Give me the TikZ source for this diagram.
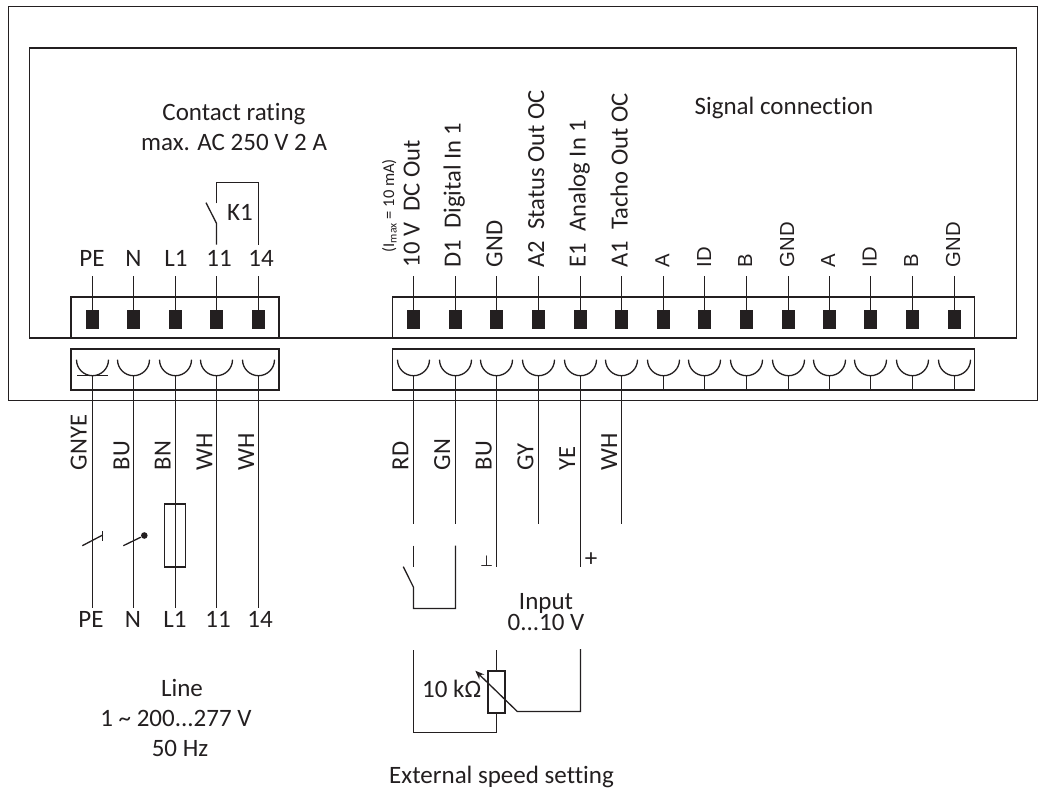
\documentclass[tikz,border=0pt]{standalone}
\usepackage{fontspec}
\usetikzlibrary{arrows.meta}
\setmainfont[Ligatures=NoCommon]{Carlito}
\setsansfont{Liberation Sans}
\newfontfamily\perpfont{DejaVu Sans}
\definecolor{ink}{HTML}{231F20}
\tikzset{
  txt/.style={font=\fontsize{25}{30}\selectfont, inner sep=0pt, align=center},
  vert/.style={txt, font=\fontsize{24.6}{30}\selectfont, rotate=90, anchor=base west},
  vertsans/.style={vert, font=\fontsize{20.3}{24}\selectfont\sffamily},
  terminal/.style={shape=rectangle, fill=ink, inner sep=0pt, minimum width=12.7pt, minimum height=18.4pt},
  strip/.style={shape=rectangle, draw, inner sep=0pt, minimum height=41pt},
}
\newcommand{\cupat}[1]{\draw ([shift={(-16,16)}]#1) arc[start angle=180, end angle=360, radius=16];}
\begin{document}
\begin{tikzpicture}[x=1pt, y=1pt, line width=1.3pt, color=ink]
      \useasboundingbox (0,0) rectangle (1043,-792);
      \coordinate (wiretop) at (0,-276);
      \coordinate (stripend) at (0,-390.5);
      \coordinate (lineend) at (0,-608);
      \coordinate (cutend) at (0,-524);
      \coordinate (longend) at (0,-566.5);

      % housing
      \node[shape=rectangle, draw, inner sep=0pt, minimum width=1029pt, minimum height=394pt] (outer) at (523,-203.5) {};
      \node[shape=rectangle, draw, inner sep=0pt, minimum width=987pt, minimum height=290pt] (inner) at (523,-193) {};

      % strips
      \node[strip, minimum width=208pt] (linetop) at (175,-317.5) {};
      \node[strip, minimum width=208pt] (linelow) at (175,-369.5) {};
      \node[strip, minimum width=582pt] (sigtop) at (683.5,-317.5) {};
      \node[strip, minimum width=582pt] (siglow) at (683.5,-369.5) {};

      % line terminals
      \node[terminal] (tpe) at (92.5,-319.5) {};
      \node[terminal] (tn) at (133.5,-319.5) {};
      \node[terminal] (tl) at (175.5,-319.5) {};
      \node[terminal] (tk) at (216.5,-319.5) {};
      \node[terminal] (tf) at (258.5,-319.5) {};
      \draw (tpe |- wiretop) -- (tpe);
      \draw (tn |- wiretop) -- (tn);
      \draw (tl |- wiretop) -- (tl);
      \draw (tk |- wiretop) -- (tk);
      \draw (tf |- wiretop) -- (tf);
      \node[txt] (lpe) at (92,-258) {PE};
      \node[txt] (ln) at (133.5,-258) {N};
      \node[txt] (ll) at (176,-258) {L1};
      \node[txt] (lk) at (219,-258) {11};
      \node[txt] (lf) at (261,-258) {14};

      % signal terminals
      \node[terminal] (tdc) at (413.5,-319.5) {};
      \node[terminal] (tdig) at (455.5,-319.5) {};
      \node[terminal] (tgnda) at (496.5,-319.5) {};
      \node[terminal] (tstat) at (538.5,-319.5) {};
      \node[terminal] (tana) at (580.5,-319.5) {};
      \node[terminal] (ttach) at (621.5,-319.5) {};
      \node[terminal] (taa) at (663.5,-319.5) {};
      \node[terminal] (tida) at (704.5,-319.5) {};
      \node[terminal] (tba) at (746.5,-319.5) {};
      \node[terminal] (tgndb) at (788.5,-319.5) {};
      \node[terminal] (tab) at (829.5,-319.5) {};
      \node[terminal] (tidb) at (870.5,-319.5) {};
      \node[terminal] (tbb) at (912.5,-319.5) {};
      \node[terminal] (tgndc) at (954.5,-319.5) {};
      \draw (tdc |- wiretop) -- (tdc);
      \draw (tdig |- wiretop) -- (tdig);
      \draw (tgnda |- wiretop) -- (tgnda);
      \draw (tstat |- wiretop) -- (tstat);
      \draw (tana |- wiretop) -- (tana);
      \draw (ttach |- wiretop) -- (ttach);
      \draw (taa |- wiretop) -- (taa);
      \draw (tida |- wiretop) -- (tida);
      \draw (tba |- wiretop) -- (tba);
      \draw (tgndb |- wiretop) -- (tgndb);
      \draw (tab |- wiretop) -- (tab);
      \draw (tidb |- wiretop) -- (tidb);
      \draw (tbb |- wiretop) -- (tbb);
      \draw (tgndc |- wiretop) -- (tgndc);
      \node[vert] (ldc) at (419.7,-268) {10 V\ \ DC Out};
      \node[vert] (ldig) at (460.7,-268) {D1\ \ Digital In 1};
      \node[vert] (lgnda) at (502.3,-268) {GND};
      \node[vert] (lstat) at (544,-268) {A2\ \ Status Out OC};
      \node[vert] (lana) at (585.7,-268) {E1\ \ Analog In 1};
      \node[vert] (ltach) at (627.7,-268) {A1\ \ Tacho Out OC};
      \node[vert, font=\fontsize{16.5}{16.5}\selectfont] (limax) at (394,-253) {(I\textsubscript{max} = 10 mA)};
      \node[vertsans] (laa) at (669.3,-268) {A};
      \node[vertsans] (lida) at (711,-268) {ID};
      \node[vertsans] (lba) at (752,-268) {B};
      \node[vertsans] (lgndb) at (794,-268) {GND};
      \node[vertsans] (lab) at (835,-268) {A};
      \node[vertsans] (lidb) at (876.7,-268) {ID};
      \node[vertsans] (lbb) at (918,-268) {B};
      \node[vertsans] (lgndc) at (960,-268) {GND};

      % sockets
      \coordinate (cpe) at (92.5,-375.7);
      \coordinate (cn) at (133.5,-375.7);
      \coordinate (cl) at (175.5,-375.7);
      \coordinate (ck) at (216.5,-375.7);
      \coordinate (cf) at (258.5,-375.7);
      \coordinate (cdc) at (413.5,-375.7);
      \coordinate (cdig) at (455.5,-375.7);
      \coordinate (cgnda) at (496.5,-375.7);
      \coordinate (cstat) at (538.5,-375.7);
      \coordinate (cana) at (580.5,-375.7);
      \coordinate (ctach) at (621.5,-375.7);
      \coordinate (caa) at (663.5,-375.7);
      \coordinate (cida) at (704.5,-375.7);
      \coordinate (cba) at (746.5,-375.7);
      \coordinate (cgndb) at (788.5,-375.7);
      \coordinate (cab) at (829.5,-375.7);
      \coordinate (cidb) at (870.5,-375.7);
      \coordinate (cbb) at (912.5,-375.7);
      \coordinate (cgndc) at (954.5,-375.7);
      \cupat{cpe}
      \cupat{cn}
      \cupat{cl}
      \cupat{ck}
      \cupat{cf}
      \cupat{cdc}
      \cupat{cdig}
      \cupat{cgnda}
      \cupat{cstat}
      \cupat{cana}
      \cupat{ctach}
      \cupat{caa}
      \cupat{cida}
      \cupat{cba}
      \cupat{cgndb}
      \cupat{cab}
      \cupat{cidb}
      \cupat{cbb}
      \cupat{cgndc}
      \draw ([xshift=-15.5]cpe) -- ([xshift=15.5]cpe);

      % line wires
      \draw (cpe) -- (cpe |- lineend);
      \draw (cn) -- (cn |- lineend);
      \draw (cl) -- (cl |- lineend);
      \draw (ck) -- (ck |- lineend);
      \draw (cf) -- (cf |- lineend);
      \node[vert] (wgnye) at (86.7,-471) {GNYE};
      \node[vert] (wbu) at (129.3,-471) {BU};
      \node[vert] (wbn) at (170.7,-471) {BN};
      \node[vert] (wwha) at (212.3,-471) {WH};
      \node[vert] (wwhb) at (254,-471) {WH};
      \node[txt] (bpe) at (91,-619) {PE};
      \node[txt] (bn) at (133,-619) {N};
      \node[txt] (bl) at (175,-619) {L1};
      \node[txt] (bk) at (218,-619) {11};
      \node[txt] (bf) at (260,-619) {14};

      % signal wires
      \draw (cdc) -- (cdc |- cutend);
      \draw (cdig) -- (cdig |- cutend);
      \draw (cgnda) -- (cgnda |- longend);
      \draw (cstat) -- (cstat |- cutend);
      \draw (cana) -- (cana |- longend);
      \draw (ctach) -- (ctach |- cutend);
      \draw (caa) -- (caa |- stripend);
      \draw (cida) -- (cida |- stripend);
      \draw (cba) -- (cba |- stripend);
      \draw (cgndb) -- (cgndb |- stripend);
      \draw (cab) -- (cab |- stripend);
      \draw (cidb) -- (cidb |- stripend);
      \draw (cbb) -- (cbb |- stripend);
      \draw (cgndc) -- (cgndc |- stripend);
      \node[vert] (wrd) at (408.3,-471) {RD};
      \node[vert] (wgn) at (450,-471) {GN};
      \node[vert] (wbua) at (491.7,-471) {BU};
      \node[vert] (wgy) at (533.3,-471) {GY};
      \node[vert] (wye) at (575,-471) {YE};
      \node[vert] (wwh) at (617,-471) {WH};

      % relay contact
      \coordinate (kfree) at (206,-202.7);
      \coordinate (khinge) at (216.5,-223.3);
      \coordinate (klow) at (216.5,-244.7);
      \coordinate (kup) at (216.5,-203.3);
      \coordinate (kcorner) at (216.5,-182.5);
      \coordinate (kcornerb) at (258.5,-182.5);
      \coordinate (klowb) at (258.5,-244.7);
      \draw (kfree) -- (khinge) -- (klow);
      \draw (kup) -- (kcorner) -- (kcornerb) -- (klowb);
      \node[txt] (kone) at (240,-212.7) {K1};

      % switches and fuse in the line
      \node[shape=rectangle, draw, inner sep=0pt, minimum width=21pt, minimum height=63pt] (fuse) at (175,-535.5) {};
      \coordinate (swpe) at (82.3,-545.7);
      \coordinate (swpeb) at (102.7,-535);
      \coordinate (barup) at (102.5,-531);
      \coordinate (bardown) at (102.5,-541);
      \draw (swpe) -- (swpeb);
      \draw (barup) -- (bardown);
      \coordinate (swn) at (123.3,-545.7);
      \node[shape=circle, fill, inner sep=0pt, minimum size=6.6pt] (dot) at (144.3,-535.5) {};
      \draw (swn) -- (dot);

      % external contact
      \coordinate (extup) at (413.5,-545.7);
      \coordinate (extmid) at (413.5,-566.7);
      \coordinate (extfree) at (403.3,-566.7);
      \coordinate (exthinge) at (413.5,-587.3);
      \coordinate (extcorner) at (413.5,-608.5);
      \coordinate (extcornerb) at (455.5,-608.5);
      \coordinate (extupb) at (455.5,-545.7);
      \draw (extup) -- (extmid);
      \draw (extfree) -- (exthinge) -- (extcorner) -- (extcornerb) -- (extupb);
      \node[font=\fontsize{15}{15}\selectfont\perpfont, inner sep=0pt] (gndsign) at (486.7,-561) {⊥};
      \node[txt] (plus) at (591,-560) {+};
      \node[txt, font=\fontsize{25}{21}\selectfont] (input) at (546,-612) {Input\\0...10 V};

      % speed potentiometer
      \node[shape=rectangle, draw, inner sep=0pt, minimum width=17pt, minimum height=42pt] (pot) at (496.5,-692) {};
      \coordinate (potin) at (496.5,-650);
      \coordinate (potleft) at (413.5,-650);
      \coordinate (potcorner) at (413.5,-732.5);
      \coordinate (potcornerb) at (496.5,-732.5);
      \coordinate (potright) at (580.5,-649);
      \coordinate (potrightb) at (580.5,-711.5);
      \coordinate (wipera) at (517.3,-711.5);
      \coordinate (wipertip) at (475.3,-670.7);
      \draw (potin) -- (pot);
      \draw (potleft) -- (potcorner) -- (potcornerb) -- (pot);
      \draw[-{Stealth[length=9pt, width=7pt]}] (potright) -- (potrightb) -- (wipera) -- (wipertip);
      \node[txt] (ohm) at (451.7,-689) {10 kΩ};

      % captions
      \node[txt] (contact) at (234,-127) {Contact rating\\max. AC 250 V 2 A};
      \node[txt] (signal) at (784,-108) {Signal connection};
      \node[txt] (linea) at (182,-688) {Line};
      \node[txt] (lineb) at (176,-718) {1 \textasciitilde{} 200...277 V};
      \node[txt] (linec) at (180,-748) {50 Hz};
      \node[txt] (speed) at (501.5,-777) {External speed setting};
    \end{tikzpicture}
\end{document}
